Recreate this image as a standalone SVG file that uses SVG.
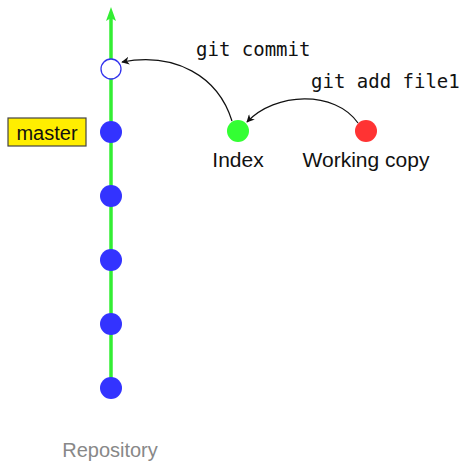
<svg xmlns="http://www.w3.org/2000/svg" width="464" height="461" viewBox="0 0 464 461">
  <style>
    .commit { fill: #3333ff; }
    .sans { font-family: "Liberation Sans", "DejaVu Sans", sans-serif; }
    .mono { font-family: "DejaVu Sans Mono", "Liberation Mono", monospace; font-size: 19px; fill: #111; }
    .conn { fill: none; stroke: #111; stroke-width: 1.2; }
  </style>
  <defs>
    <marker id="arrow" viewBox="0 0 10 10" refX="9" refY="5" markerWidth="8" markerHeight="8" markerUnits="userSpaceOnUse" orient="auto">
      <path d="M0,0 L10,5 L0,10 L3,5 Z" fill="#111"/>
    </marker>
  </defs>

  <!-- history line -->
  <g id="history">
    <line x1="111" y1="388" x2="111" y2="18" stroke="#33ee33" stroke-width="3.5"/>
    <path d="M111,7 L116,21 L111,18 L106,21 Z" fill="#33ee33"/>
  </g>

  <!-- commits -->
  <g id="new-commit"><circle cx="111" cy="69" r="10" fill="#fff" stroke="#3333ee" stroke-width="1.3"/></g>
  <g id="commit-1"><circle class="commit" cx="111" cy="132" r="11"/></g>
  <g id="commit-2"><circle class="commit" cx="111" cy="196" r="11"/></g>
  <g id="commit-3"><circle class="commit" cx="111" cy="260" r="11"/></g>
  <g id="commit-4"><circle class="commit" cx="111" cy="324" r="11"/></g>
  <g id="commit-5"><circle class="commit" cx="111" cy="388" r="11"/></g>

  <!-- branch label -->
  <g id="master">
    <rect x="8" y="118" width="78" height="28" fill="#ffee00" stroke="#444" stroke-width="1.2"/>
    <text class="sans" x="47" y="140" font-size="20" text-anchor="middle" fill="#111">master</text>
  </g>

  <!-- staging area and working tree -->
  <g id="index">
    <circle cx="238" cy="131" r="11" fill="#33ff33"/>
    <text class="sans" x="238" y="167" font-size="21" text-anchor="middle" fill="#111">Index</text>
  </g>
  <g id="working-copy">
    <circle cx="366" cy="131" r="11" fill="#ff3333"/>
    <text class="sans" x="366" y="167" font-size="21" text-anchor="middle" fill="#111">Working copy</text>
  </g>

  <!-- connectors -->
  <g id="connectors">
    <path class="conn" d="M232,121 C218,76 175,52 122,62" marker-end="url(#arrow)"/>
    <path class="conn" d="M358,123 C335,90 275,92 247,122" marker-end="url(#arrow)"/>
    <text class="mono" x="196" y="56">git commit</text>
    <text class="mono" x="311" y="88">git add file1</text>
  </g>

  <text class="sans" x="110" y="457" font-size="20" text-anchor="middle" fill="#888">Repository</text>
</svg>
